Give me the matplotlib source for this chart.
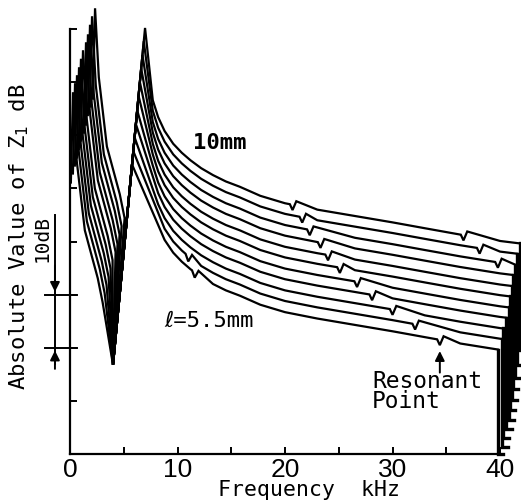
"""
Impedance |Z1| against frequency for a set of lengths l,
drawn as a waterfall (each curve offset), black on white like the scan.
"""
import matplotlib
matplotlib.use("Agg")
import matplotlib.pyplot as plt
import numpy as np

# curves, bottom (l=5.5mm) to top (10mm)
lengths_mm = [5.5, 5.95, 6.4, 6.85, 7.3, 7.75, 8.2, 8.65, 9.1, 9.55, 10.0]

# first resonance peak of every curve (stair at the upper left)
peak1_khz = [0.28, 0.47, 0.65, 0.84, 1.02, 1.21, 1.49, 1.67, 1.86, 2.05, 2.33]
peak1_db = [68.1, 69.8, 71.3, 72.8, 74.4, 76.0, 77.5, 79.0, 80.8, 82.4, 83.9]

# fall from the first peak, relative to that peak
fall_dkhz = [0.35, 1.1, 2.3, 2.75]
fall_ddb = [-13.0, -26.0, -35.0, -39.5]

# common anti-resonance dip
dip_khz, dip_db = 4.0, 16.8

# second peak of every curve, all on the same rising edge
peak2_khz = [5.77, 5.89, 6.01, 6.13, 6.25, 6.38, 6.50, 6.62, 6.74, 6.86, 6.98]
peak2_db = [54.5, 57.0, 59.6, 62.1, 64.7, 67.4, 70.0, 72.6, 75.1, 77.7, 80.2]

# tail of the top curve (10mm); lower curves are offset copies
tail_khz = [7.7, 8.2, 8.8, 9.6, 10.4, 11.2, 12.2, 13.3, 14.5, 15.8, 17.7,
            20.0, 23.0, 26.5, 30.0, 33.0, 36.3, 40.0, 42.0]
tail_top_db = [66.6, 63.4, 60.8, 58.4, 56.7, 55.3, 53.8, 52.5, 51.3, 50.3, 48.6,
               47.2, 46.0, 44.8, 43.6, 42.5, 41.3, 40.1, 39.6]
tail_offset_db = [-20.5, -18.4, -16.4, -14.3, -12.3, -10.2, -8.2, -6.1, -4.1, -2.0, 0.0]
tail_first_khz = [8.8, 8.8, 8.2, 8.2, 7.7, 7.7, 7.7, 7.7, 7.7, 7.7, 7.7]

# resonant points (small notches) on every curve
notch_khz = [[11.6, 34.4], [11.0, 32.1], [30.0], [28.1], [26.7], [25.1], [24.0], [23.3],
             [22.3, 39.8], [21.6, 38.1], [20.7, 36.6]]

# end of every sweep and the level the pen drops to
end_khz = [39.8, 40.2, 40.3, 40.6, 40.8, 40.9, 41.1, 41.2, 41.4, 41.6, 41.9]
drop_db = [0.0, 1.3, 3.0, 4.7, 6.4, 8.3, 10.2, 12.2, 14.3, 16.8, 19.6]

x_ticks = [0, 5, 10, 15, 20, 25, 30, 35, 40]
x_tick_labels = ["0", "", "10", "", "20", "", "30", "", "40"]
y_ticks = [0, 10, 20, 30, 40, 50, 60, 70, 80]

MONO = ["DejaVu Sans Mono", "DejaVu Sans"]
NARROW = ["Liberation Sans Narrow", "Liberation Sans", "DejaVu Sans"]


def curve_points(k):
    fk, dk = peak1_khz[k], peak1_db[k]
    xs = [fk - 0.2, fk]
    ys = [dk - 17.0, dk]
    for a, b in zip(fall_dkhz, fall_ddb):
        xs.append(fk + a)
        ys.append(dk + b)
    xs += [dip_khz, peak2_khz[k]]
    ys += [dip_db, peak2_db[k]]

    tx = np.array(tail_khz)
    ty = np.array(tail_top_db) + tail_offset_db[k]
    keep = (tx >= tail_first_khz[k]) & (tx < end_khz[k])
    tx = list(tx[keep]) + [end_khz[k]]
    ty = list(ty[keep]) + [np.interp(end_khz[k], tail_khz, tail_top_db) + tail_offset_db[k]]

    # small saw-tooth at each resonant point
    for fn in notch_khz[k]:
        if fn + 0.35 >= end_khz[k]:
            continue
        v = lambda f: np.interp(f, tx, ty)
        new = [(fn - 0.25, v(fn - 0.25)), (fn, v(fn) - 1.0), (fn + 0.35, v(fn + 0.35) + 0.8)]
        pts = sorted([p for p in zip(tx, ty) if not (fn - 0.25 <= p[0] <= fn + 0.9)] + new)
        tx = [p[0] for p in pts]
        ty = [p[1] for p in pts]

    return xs + tx, ys + ty


fig = plt.figure(figsize=(5.21, 5.03), dpi=100)
ax = fig.add_axes([70 / 521, 49 / 503, 451 / 521, 454 / 503])
ax.set_xlim(0, 41.95)
ax.set_ylim(0, 85.46)

for k in range(len(lengths_mm)):
    xs, ys = curve_points(k)
    ax.plot(xs, ys, color="black", lw=1.6, solid_joinstyle="miter", clip_on=False)
    # pen drop at the end of the sweep
    ax.plot([end_khz[k], end_khz[k], end_khz[k] + 0.5], [ys[-1], drop_db[k], drop_db[k]],
            color="black", lw=2.4, solid_joinstyle="miter", clip_on=False)

for side in ["top", "right"]:
    ax.spines[side].set_visible(False)
ax.spines["left"].set_bounds(0, 80)
ax.spines["bottom"].set_bounds(0, 40)
for side in ["left", "bottom"]:
    ax.spines[side].set_linewidth(1.6)

ax.set_xticks(x_ticks)
ax.set_xticklabels(x_tick_labels, family=NARROW, fontsize=19)
ax.set_yticks(y_ticks)
ax.set_yticklabels([])
ax.tick_params(direction="in", length=5, width=1.4, pad=3)

fig.text(309 / 521, 1 - 490 / 503, "Frequency  kHz", family=MONO, fontsize=15.5,
         ha="center", va="center")
ax.text(-4.7, 40.8, "Absolute Value of Z$_1$ dB", rotation=90, family=MONO,
        fontsize=16, ha="center", va="center", clip_on=False)

# 10 dB scale bar left of the axis
ax.plot([-2.3, 0.65], [30, 30], color="black", lw=1.4, clip_on=False)
ax.plot([-2.3, 0.65], [20, 20], color="black", lw=1.4, clip_on=False)
ax.plot([-1.4, -1.4], [45, 17], color="black", lw=1.4, clip_on=False)
ax.annotate("", xy=(-1.4, 30), xytext=(-1.4, 36), annotation_clip=False,
            arrowprops=dict(arrowstyle="-|>", color="black", lw=1.4, mutation_scale=14))
ax.annotate("", xy=(-1.4, 20), xytext=(-1.4, 15.5), annotation_clip=False,
            arrowprops=dict(arrowstyle="-|>", color="black", lw=1.4, mutation_scale=14))
ax.text(-2.6, 40.6, "10dB", rotation=90, family=MONO, fontsize=14,
        ha="center", va="center", clip_on=False)

# curve labels
ax.text(11.4, 58.5, "10mm", family=MONO, fontsize=16, fontweight="bold", va="center")
ax.text(8.8, 25.0, "\u2113=5.5mm", family=MONO, fontsize=16, va="center")

# resonant point marker
ax.annotate("", xy=(34.4, 19.9), xytext=(34.4, 14.8),
            arrowprops=dict(arrowstyle="-|>", color="black", lw=1.4, mutation_scale=14))
ax.text(28.1, 11.8, "Resonant\nPoint", family=MONO, fontsize=16.5, va="center",
        linespacing=0.85)

fig.savefig("out.png", dpi=100, facecolor="white")
